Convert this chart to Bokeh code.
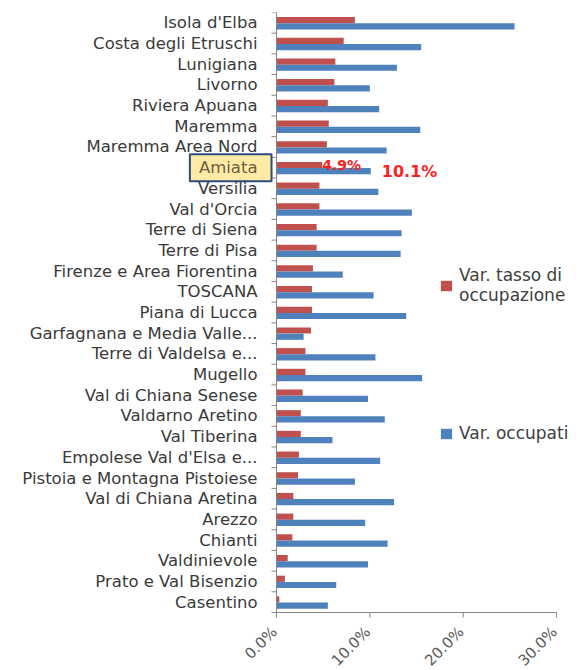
from math import pi
from bokeh.plotting import figure
from bokeh.models import (Range1d, Label, Legend, LegendItem, ColumnDataSource)
from bokeh.core.properties import value
from bokeh.embed import file_html
from bokeh.resources import INLINE

areas = ["Isola d'Elba", "Costa degli Etruschi", "Lunigiana", "Livorno",
         "Riviera Apuana", "Maremma", "Maremma Area Nord", "Amiata", "Versilia",
         "Val d'Orcia", "Terre di Siena", "Terre di Pisa",
         "Firenze e Area Fiorentina", "TOSCANA", "Piana di Lucca",
         "Garfagnana e Media Valle...", "Terre di Valdelsa e...", "Mugello",
         "Val di Chiana Senese", "Valdarno Aretino", "Val Tiberina",
         "Empolese Val d'Elsa e...", "Pistoia e Montagna Pistoiese",
         "Val di Chiana Aretina", "Arezzo", "Chianti", "Valdinievole",
         "Prato e Val Bisenzio", "Casentino"]
var_tasso = [8.4, 7.2, 6.3, 6.2, 5.5, 5.6, 5.4, 4.9, 4.6, 4.6, 4.3, 4.3, 3.9,
             3.8, 3.8, 3.7, 3.1, 3.1, 2.8, 2.6, 2.6, 2.4, 2.3, 1.8, 1.8, 1.7,
             1.2, 0.9, 0.3]
var_occupati = [25.5, 15.5, 12.9, 10.0, 11.0, 15.4, 11.8, 10.1, 10.9, 14.5,
                13.4, 13.3, 7.1, 10.4, 13.9, 2.9, 10.6, 15.6, 9.8, 11.6, 6.0,
                11.1, 8.4, 12.6, 9.5, 11.9, 9.8, 6.4, 5.5]
x_ticks = [0.0, 0.1, 0.2, 0.3]
x_tick_labels = ["0.0%", "10.0%", "20.0%", "30.0%"]
highlight = "Amiata"

n = len(areas)
idx = list(range(n))
hi = areas.index(highlight)

RED = "#C0504D"
BLUE = "#4F81BD"
AXIS = "#868686"
FONT = "DejaVu Sans"

W, H = 586, 670
TOP = 12                      # space above the first category
PLOT_H = 600                  # height of the category area
BOTTOM = H - TOP - PLOT_H     # room for the rotated value labels
ROW_PX = PLOT_H / n
X0, X1 = -0.2957, 0.3321      # frame covers the whole width; value 0 sits at the axis
PX_PER_UNIT = W / (X1 - X0)
TICK_X = 5 / PX_PER_UNIT
TICK_Y = 5 / ROW_PX
AXIS_Y = n - 0.5

bars = ColumnDataSource(dict(
    y_red=[i - 0.13 for i in idx],
    y_blue=[i + 0.17 for i in idx],
    tasso=[v / 100 for v in var_tasso],
    occ=[v / 100 for v in var_occupati],
))
labels = ColumnDataSource(dict(
    y=[i for i in idx if i != hi],
    text=[a for i, a in enumerate(areas) if i != hi],
    x=[0.0] * (n - 1),
))
xlabels = ColumnDataSource(dict(x=x_ticks, y=[AXIS_Y] * len(x_ticks), text=x_tick_labels))
bounds = [i - 0.5 for i in range(n + 1)]

p = figure(width=W, height=H, output_backend="svg", toolbar_location=None,
           x_range=Range1d(X0, X1),
           y_range=Range1d(AXIS_Y + BOTTOM / ROW_PX, -0.5),
           min_border_left=0, min_border_right=0, min_border_top=TOP,
           min_border_bottom=0, outline_line_color=None)
p.grid.visible = False
p.axis.visible = False

r_red = p.hbar(y="y_red", right="tasso", left=0, height=0.3, source=bars,
               fill_color=RED, line_color=None)
r_blue = p.hbar(y="y_blue", right="occ", left=0, height=0.3, source=bars,
                fill_color=BLUE, line_color=None)

# value axis line and ticks
p.segment(x0=[x_ticks[0]], y0=[AXIS_Y], x1=[x_ticks[-1]], y1=[AXIS_Y],
          line_color=AXIS, line_width=1)
p.segment(x0=x_ticks, y0=[AXIS_Y] * len(x_ticks), x1=x_ticks,
          y1=[AXIS_Y + TICK_Y] * len(x_ticks), line_color=AXIS, line_width=1)
p.text(x="x", y="y", text="text", source=xlabels, angle=pi / 4,
       text_align="right", text_baseline="middle", x_offset=-2, y_offset=17,
       text_font=value(FONT), text_font_size="15px", text_color="#595959")

# category axis line and boundary tick marks
p.segment(x0=[0], y0=[-0.5], x1=[0], y1=[AXIS_Y], line_color=AXIS, line_width=1)
p.segment(x0=[0] * len(bounds), y0=bounds, x1=[-TICK_X] * len(bounds), y1=bounds,
          line_color=AXIS, line_width=1)

# category labels
p.text(x="x", y="y", text="text", source=labels, x_offset=-19,
       text_align="right", text_baseline="middle", text_font=value(FONT),
       text_font_size="16.5px", text_color="#3A3A3A")

# highlighted category label
p.add_layout(Label(x=0, y=hi, text=highlight, x_offset=-5, y_offset=0,
                   text_align="right", text_baseline="middle", text_font=FONT,
                   text_font_size="16.5px", text_color="#6B6040",
                   background_fill_color="#FFEBA6",
                   border_line_color="#2E4A7A", border_line_width=2,
                   padding=dict(left=9, right=14, top=4, bottom=4)))

# value annotations for the highlighted category
p.add_layout(Label(x=var_tasso[hi] / 100, y=hi - 0.13, text=f"{var_tasso[hi]}%",
                   text_baseline="middle", text_font=FONT, text_font_size="14px",
                   text_color="#FF2020", text_font_style="bold", x_offset=0))
p.add_layout(Label(x=var_occupati[hi] / 100, y=hi + 0.17, text=f"{var_occupati[hi]}%",
                   text_baseline="middle", text_font=FONT, text_font_size="16px",
                   text_color="#FF2020", text_font_style="bold", x_offset=11))

legend = Legend(items=[LegendItem(label="Var. tasso di\noccupazione", renderers=[r_red]),
                       LegendItem(label="Var. occupati", renderers=[r_blue])],
                location=(439, 227), spacing=118, glyph_width=14, glyph_height=13,
                label_text_font=FONT, label_text_font_size="17px",
                label_text_color="#404040", border_line_color=None,
                background_fill_alpha=0, padding=0, margin=0, label_standoff=6)
p.add_layout(legend, "center")

open("out.html", "w").write(file_html(p, INLINE))
